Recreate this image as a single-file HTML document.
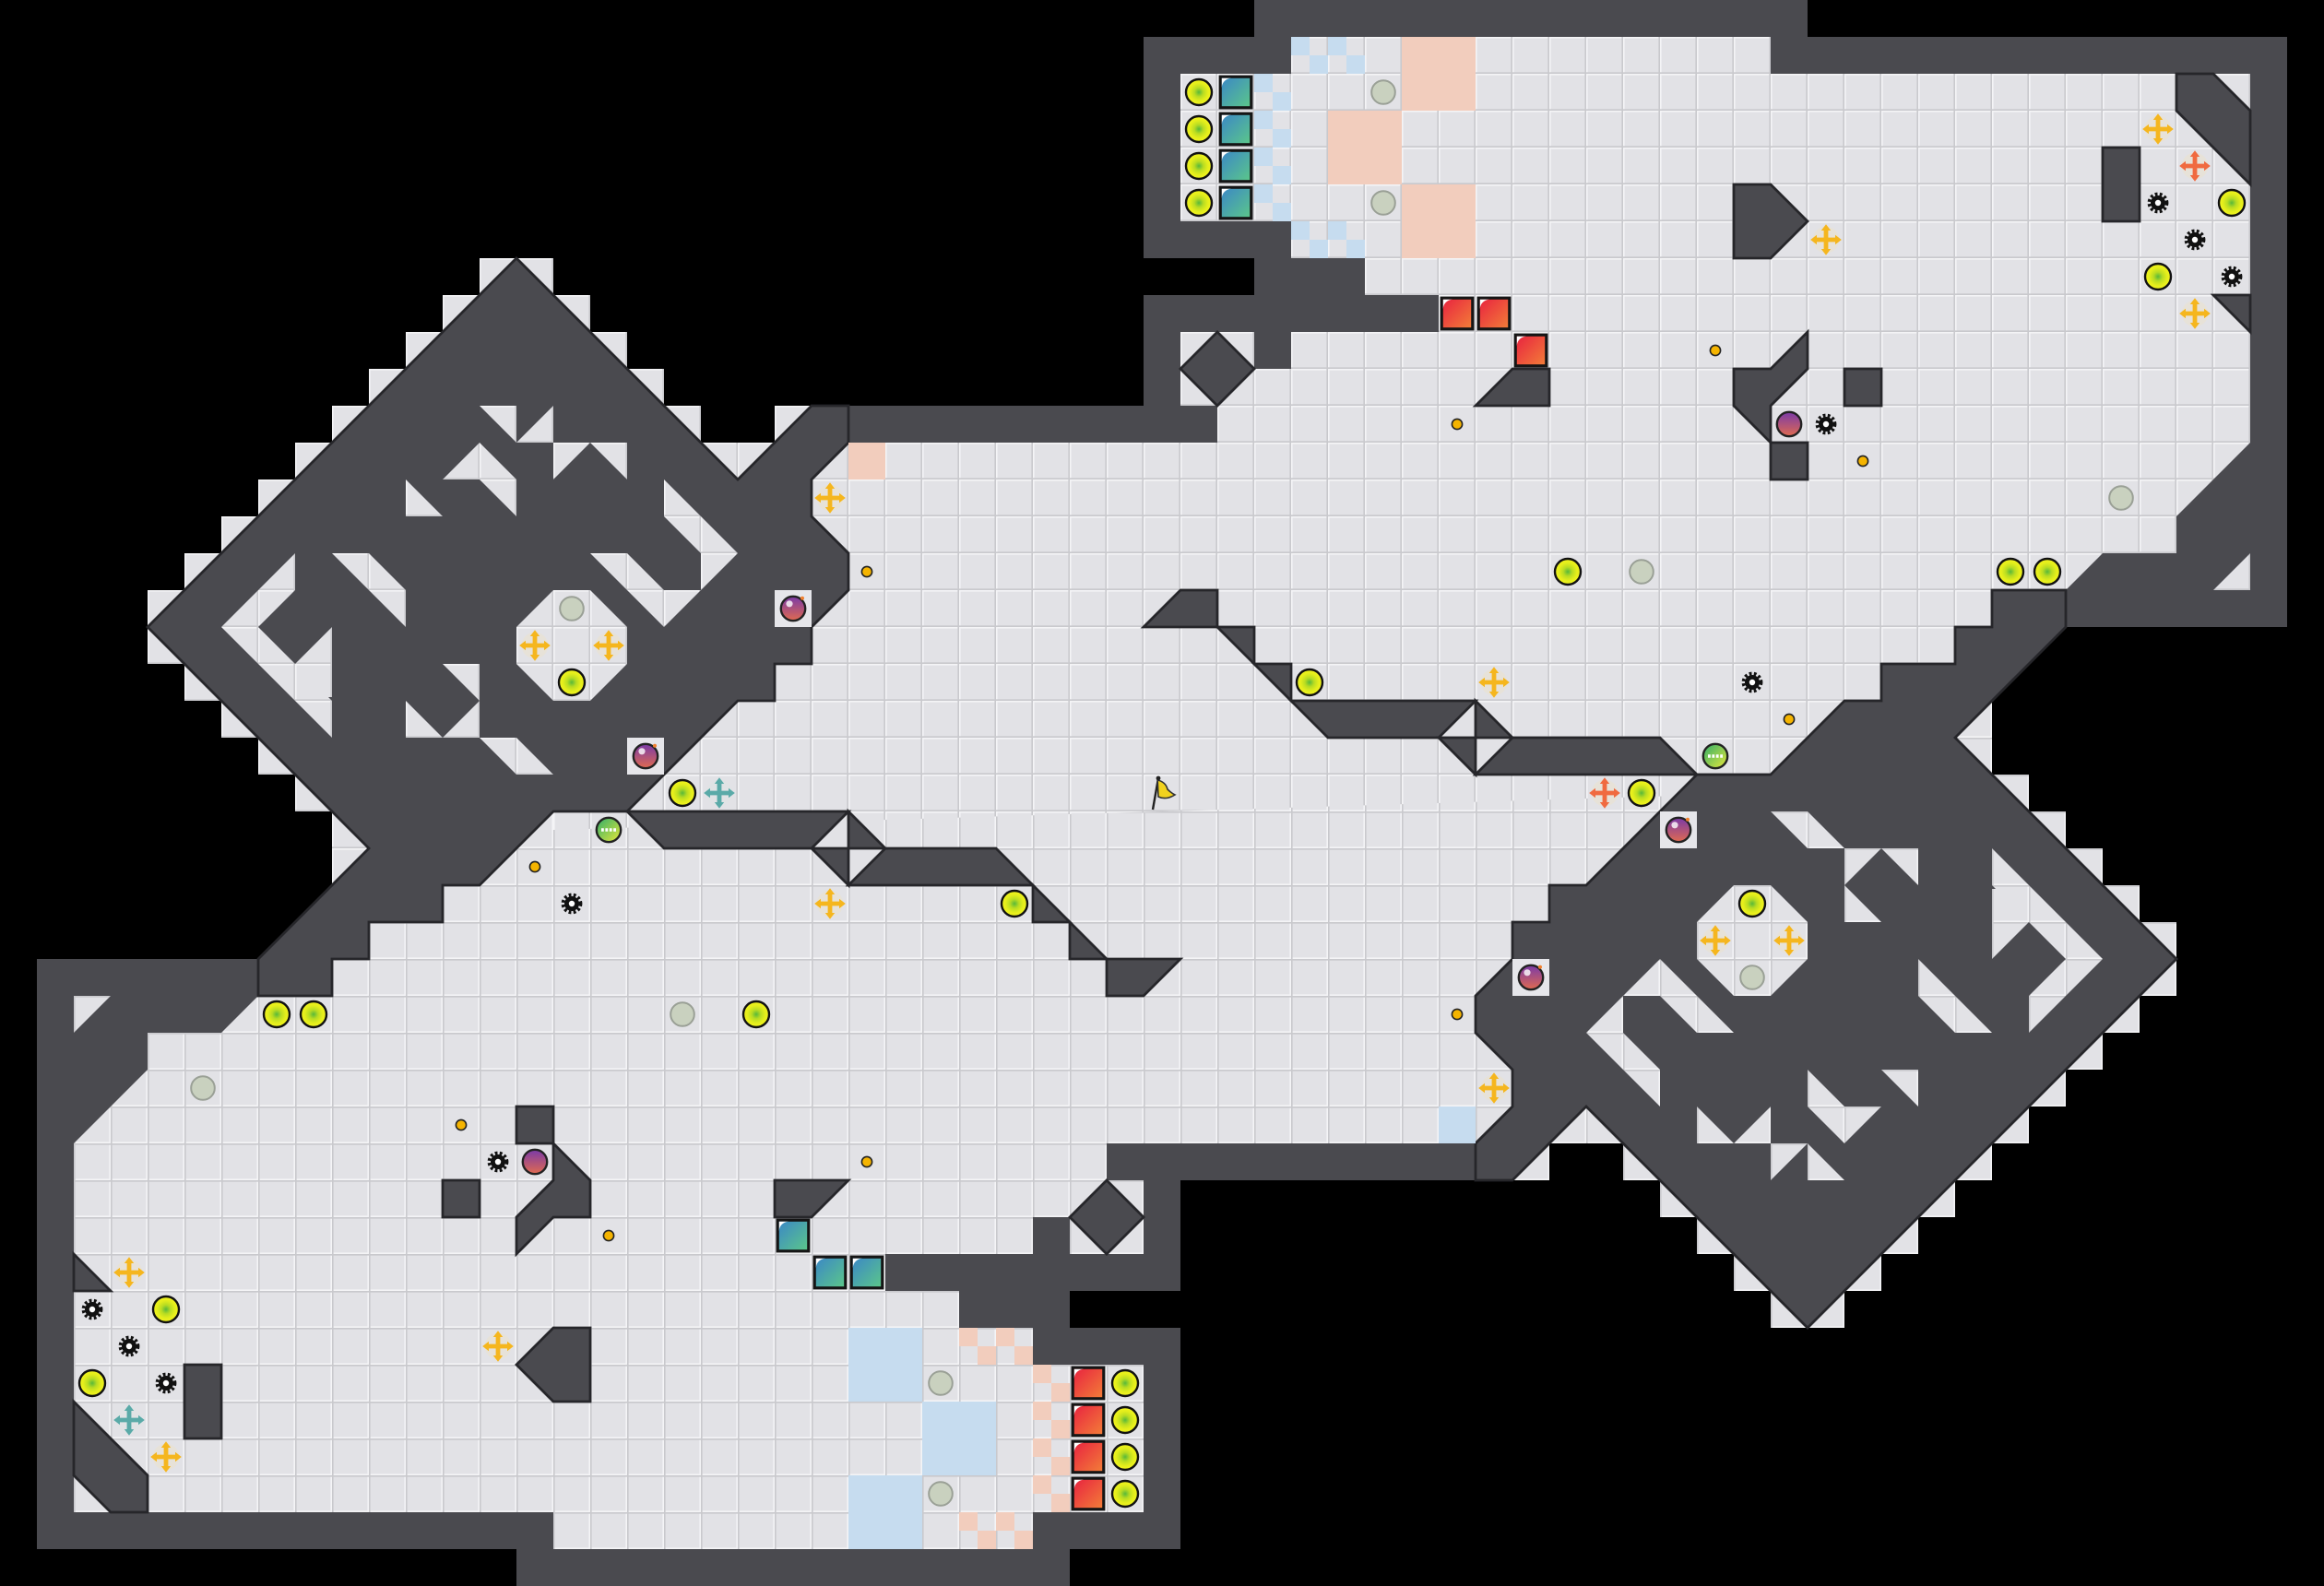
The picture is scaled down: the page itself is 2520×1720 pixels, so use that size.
<!DOCTYPE html>
<html><head><meta charset="utf-8"><style>html,body{margin:0;padding:0;background:#000}svg{display:block}</style></head>
<body>
<svg xmlns="http://www.w3.org/2000/svg" xmlns:xlink="http://www.w3.org/1999/xlink" width="2520" height="1720" viewBox="0 0 63 43">
<defs>
<pattern id="t" width="1" height="1" patternUnits="userSpaceOnUse"><rect width="1" height="1" fill="#e2e2e6"/><path d="M0 .02H1M.02 0V1" stroke="#f4f4f6" stroke-width=".04"/><path d="M0 .98H1M.98 0V1" stroke="#c9c9cd" stroke-width=".04"/></pattern>
<radialGradient id="gy" cx=".5" cy=".5" r=".5"><stop offset="0" stop-color="#58b83a"/><stop offset=".35" stop-color="#b8dc22"/><stop offset=".7" stop-color="#e4ee1c"/><stop offset="1" stop-color="#f2f41e"/></radialGradient>
<linearGradient id="gt" x1="0" y1="0" x2="1" y2="1"><stop offset="0" stop-color="#3a86c8"/><stop offset="1" stop-color="#5cc888"/></linearGradient>
<linearGradient id="gr" x1="0" y1="0" x2="1" y2="1"><stop offset="0" stop-color="#e82040"/><stop offset="1" stop-color="#f38038"/></linearGradient>
<linearGradient id="gb" x1="0" y1="0" x2="0" y2="1"><stop offset="0" stop-color="#7a3aa8"/><stop offset="1" stop-color="#e06a50"/></linearGradient>
<linearGradient id="gg" x1="0" y1="0" x2="1" y2="1"><stop offset="0" stop-color="#2fae6a"/><stop offset="1" stop-color="#e8e83a"/></linearGradient>
<g id="yc"><circle r=".35" fill="url(#gy)" stroke="#111" stroke-width=".06"/></g>
<g id="gc"><circle r=".32" fill="#c9d1bf" stroke="#9aa096" stroke-width=".05"/></g>
<g id="ts"><rect x="-.42" y="-.42" width=".84" height=".84" fill="url(#gt)" stroke="#151515" stroke-width=".08"/><path d="M-.38 -.12A.26 .26 0 0 1 -.12 -.38L-.38 -.38Z" fill="#fff"/></g>
<g id="rs"><rect x="-.42" y="-.42" width=".84" height=".84" fill="url(#gr)" stroke="#151515" stroke-width=".08"/><path d="M-.38 -.12A.26 .26 0 0 1 -.12 -.38L-.38 -.38Z" fill="#fff"/></g>
<g id="yx"><circle r=".36" fill="#e9e2d2" opacity=".7"/><path d="M0 -.28V.28M-.28 0H.28" stroke="#f5b61e" stroke-width=".12"/><path d="M0 -.42L-.13 -.25H.13ZM0 .42L-.13 .25H.13ZM-.42 0L-.25 -.13V.13ZM.42 0L.25 -.13V.13Z" fill="#f5b61e"/></g>
<g id="ox"><circle r=".36" fill="#e9e2d2" opacity=".7"/><path d="M0 -.28V.28M-.28 0H.28" stroke="#f06a40" stroke-width=".12"/><path d="M0 -.42L-.13 -.25H.13ZM0 .42L-.13 .25H.13ZM-.42 0L-.25 -.13V.13ZM.42 0L.25 -.13V.13Z" fill="#f06a40"/></g>
<g id="tx"><circle r=".36" fill="#e0e4e4" opacity=".7"/><path d="M0 -.28V.28M-.28 0H.28" stroke="#5aaaa8" stroke-width=".12"/><path d="M0 -.42L-.13 -.25H.13ZM0 .42L-.13 .25H.13ZM-.42 0L-.25 -.13V.13ZM.42 0L.25 -.13V.13Z" fill="#5aaaa8"/></g>
<g id="gear"><circle r=".2" fill="#111"/><circle r=".24" fill="none" stroke="#111" stroke-width=".09" stroke-dasharray=".07 .06"/><circle r=".08" fill="#fff"/></g>
<g id="dot"><circle r=".14" fill="#f5b400" stroke="#222" stroke-width=".04"/></g>
<g id="bomb"><rect x="-.5" y="-.5" width="1" height="1" fill="#e6e6ea"/><circle r=".33" fill="url(#gb)" stroke="#222" stroke-width=".06"/><circle cx="-.1" cy="-.13" r=".09" fill="#fff" opacity=".8"/><circle cx=".25" cy="-.28" r=".05" fill="#f08030"/></g>
<g id="gball"><circle r=".33" fill="url(#gg)" stroke="#222" stroke-width=".06"/><path d="M-.2 0h.4" stroke="#fff" stroke-width=".09" stroke-dasharray=".07 .04"/></g>
<g id="bchk"><rect width=".5" height=".5" fill="#c6dcef"/><rect x=".5" y=".5" width=".5" height=".5" fill="#c6dcef"/></g>
<g id="schk"><rect width=".5" height=".5" fill="#f2cdbd"/><rect x=".5" y=".5" width=".5" height=".5" fill="#f2cdbd"/></g>

<polygon id="foot" fill="#4a4a4f" points="9,24 9,22 8,22 8,21 7,21 7,20 6,20 6,19 5,19 5,18 4,18 4,16 5,16 5,15 6,15 6,14 7,14 7,13 8,13 8,12 9,12 9,11 10,11 10,10 11,10 11,9 12,9 12,8 13,8 13,7 15,7 15,8 16,8 16,9 17,9 17,10 18,10 18,11 19,11 19,12 21,12 21,11 31,11 31,8 34,8 34,7 31,7 31,1 34,1 34,0 49,0 49,1 62,1 62,17 56,17 54,19 31.5,21.5"/>
<polygon id="floor" fill="url(#t)" points="9,24 9,22 8,22 8,21 7,21 7,20 6,20 6,19 5,19 5,18 4,18 4,16 5,16 5,15 6,15 6,14 7,14 7,13 8,13 8,12 9,12 9,11 10,11 10,10 11,10 11,9 12,9 12,8 13,8 13,7 15,7 15,8 16,8 16,9 17,9 17,10 18,10 18,11 19,11 19,12 21,12 21,11 22,11 22,12 33,12 33,11 32,11 32,9 34,9 34,10 35,10 35,9 39,9 39,8 37,8 37,7 35,7 35,6 32,6 32,2 35,2 35,1 48,1 48,2 61,2 61,12 59,14 59,15 57,15 56,16 54,16 54,17 53,17 53,18 51,18 51,19 50,19 48,21 31.5,21.5 15,22 12,24"/>
<g id="walls" fill="#4a4a4f" stroke="#26262a" stroke-width=".07" stroke-linejoin="miter">
<polygon points="14,7 20,13 22,11 23,11 23,12 22,13 22,14 23,15 23,16 22,17 22,18 21,18 21,19 20,19 17,22 15,22 13,24 12,24 12,25 10,25 10,26 9,26 9,27 7,27 7,26 10,23 4,17"/>
<polygon points="33,9 34,10 33,11 32,10"/>
<polygon points="47,5 48,5 49,6 48,7 47,7"/>
<rect x="57" y="4" width="1" height="2"/>
<polygon points="59,2 60,2 61,3 61,5 59,3"/>
<polygon points="60,8 61,8 61,9"/>
<polygon points="40,11 41,10 42,10 42,11"/>
<polygon points="49,9 49,10 48,11 48,12 47,11 47,10 48,10"/>
<rect x="50" y="10" width="1" height="1"/>
<rect x="48" y="12" width="1" height="1"/>
<polygon points="31,17 32,16 33,16 33,17"/>
<polygon points="33,17 34,17 34,18"/>
<polygon points="34,18 35,18 35,19"/>
<polygon points="35,19 40,19 39,20 36,20"/>
<polygon points="40,19 41,20 40,20"/>
<polygon points="39,20 40,20 40,21"/>
<polygon points="41,20 45,20 46,21 40,21"/>
</g>
<g id="cuts" fill="url(#t)">
<polygon points="15,16 16,16 17,17 17,18 16,19 15,19 14,18 14,17"/>
<rect x="21" y="16" width="1" height="1"/>
<rect x="17" y="20" width="1" height="1"/>
<polygon points="60,16 61,16 61,15"/>
<polygon points="13,11 14,11 14,12"/>
<polygon points="14,12 15,11 15,12"/>
<polygon points="15,12 16,12 15,13"/>
<polygon points="16,12 17,12 17,13"/>
<polygon points="12,13 13,12 13,13"/>
<polygon points="13,12 14,13 14,14 13,13"/>
<polygon points="11,13 12,14 11,14"/>
<polygon points="18,13 20,15 19,16 19,15 18,14"/>
<polygon points="16,15 17,15 18,16 19,16 18,17"/>
<polygon points="9,15 10,15 11,16 11,17"/>
<polygon points="8,15 6,17 9,20 9,19 7,17 8,16"/>
<polygon points="9,17 9,18 8,18"/>
<rect x="8" y="18" width="1" height=".9"/>
<polygon points="12,18 13,18 13,19"/>
<polygon points="11,19 12,20 11,20"/>
<polygon points="12,20 13,19 13,20"/>
<polygon points="13,20 14,20 15,21 14,21"/>
</g>
</defs>

<use xlink:href="#foot"/>
<use xlink:href="#foot" transform="rotate(180 31.5 21.5)"/>
<use xlink:href="#floor"/>
<use xlink:href="#floor" transform="rotate(180 31.5 21.5)"/>
<polygon fill="url(#t)" points="15,21.5 31.5,21 48,20.5 48,21.5 31.5,22 15,22.5"/>
<use xlink:href="#walls"/>
<use xlink:href="#walls" transform="rotate(180 31.5 21.5)"/>
<use xlink:href="#cuts"/>
<use xlink:href="#cuts" transform="rotate(180 31.5 21.5)"/>

<g fill="#f2cdbd">
<rect x="38" y="1" width="2" height="2"/><rect x="36" y="3" width="2" height="2"/><rect x="38" y="5" width="2" height="2"/><rect x="23" y="12" width="1" height="1"/>
</g>
<g fill="#c6dcef">
<rect x="23" y="36" width="2" height="2"/><rect x="25" y="38" width="2" height="2"/><rect x="23" y="40" width="2" height="2"/><rect x="39" y="30" width="1" height="1"/>
</g>
<use xlink:href="#bchk" x="35" y="1"/><use xlink:href="#bchk" x="36" y="1"/><use xlink:href="#bchk" x="34" y="2"/><use xlink:href="#bchk" x="34" y="3"/><use xlink:href="#bchk" x="34" y="4"/><use xlink:href="#bchk" x="34" y="5"/><use xlink:href="#bchk" x="35" y="6"/><use xlink:href="#bchk" x="36" y="6"/>
<use xlink:href="#schk" x="26" y="41"/><use xlink:href="#schk" x="27" y="41"/><use xlink:href="#schk" x="28" y="37"/><use xlink:href="#schk" x="28" y="38"/><use xlink:href="#schk" x="28" y="39"/><use xlink:href="#schk" x="28" y="40"/><use xlink:href="#schk" x="26" y="36"/><use xlink:href="#schk" x="27" y="36"/>

<use xlink:href="#yc" x="32.5" y="2.5"/><use xlink:href="#yc" x="32.5" y="3.5"/><use xlink:href="#yc" x="32.5" y="4.5"/><use xlink:href="#yc" x="32.5" y="5.5"/>
<use xlink:href="#ts" x="33.5" y="2.5"/><use xlink:href="#ts" x="33.5" y="3.5"/><use xlink:href="#ts" x="33.5" y="4.5"/><use xlink:href="#ts" x="33.5" y="5.5"/>
<use xlink:href="#rs" x="29.5" y="37.5"/><use xlink:href="#rs" x="29.5" y="38.5"/><use xlink:href="#rs" x="29.5" y="39.5"/><use xlink:href="#rs" x="29.5" y="40.5"/>
<use xlink:href="#yc" x="30.5" y="37.5"/><use xlink:href="#yc" x="30.5" y="38.5"/><use xlink:href="#yc" x="30.5" y="39.5"/><use xlink:href="#yc" x="30.5" y="40.5"/>
<use xlink:href="#rs" x="39.5" y="8.5"/><use xlink:href="#rs" x="40.5" y="8.5"/><use xlink:href="#rs" x="41.5" y="9.5"/>
<use xlink:href="#ts" x="21.5" y="33.5"/><use xlink:href="#ts" x="22.5" y="34.5"/><use xlink:href="#ts" x="23.5" y="34.5"/>

<use xlink:href="#yc" x="60.5" y="5.5"/><use xlink:href="#yc" x="58.5" y="7.5"/><use xlink:href="#yc" x="42.5" y="15.5"/><use xlink:href="#yc" x="54.5" y="15.5"/><use xlink:href="#yc" x="55.5" y="15.5"/><use xlink:href="#yc" x="35.5" y="18.5"/><use xlink:href="#yc" x="44.5" y="21.5"/><use xlink:href="#yc" x="18.5" y="21.5"/><use xlink:href="#yc" x="15.5" y="18.5"/><use xlink:href="#yc" x="27.5" y="24.5"/><use xlink:href="#yc" x="7.5" y="27.5"/><use xlink:href="#yc" x="8.5" y="27.5"/><use xlink:href="#yc" x="20.5" y="27.5"/><use xlink:href="#yc" x="47.5" y="24.5"/><use xlink:href="#yc" x="4.5" y="35.5"/><use xlink:href="#yc" x="2.5" y="37.5"/>
<use xlink:href="#gc" x="37.5" y="2.5"/><use xlink:href="#gc" x="37.5" y="5.5"/><use xlink:href="#gc" x="44.5" y="15.5"/><use xlink:href="#gc" x="57.5" y="13.5"/><use xlink:href="#gc" x="15.5" y="16.5"/><use xlink:href="#gc" x="47.5" y="26.5"/><use xlink:href="#gc" x="18.5" y="27.5"/><use xlink:href="#gc" x="5.5" y="29.5"/><use xlink:href="#gc" x="25.5" y="37.5"/><use xlink:href="#gc" x="25.5" y="40.5"/>
<use xlink:href="#yx" x="58.5" y="3.5"/><use xlink:href="#yx" x="49.5" y="6.5"/><use xlink:href="#yx" x="59.5" y="8.5"/><use xlink:href="#yx" x="40.5" y="18.5"/><use xlink:href="#yx" x="22.5" y="13.5"/><use xlink:href="#yx" x="22.5" y="24.5"/><use xlink:href="#yx" x="14.5" y="17.5"/><use xlink:href="#yx" x="16.5" y="17.5"/><use xlink:href="#yx" x="46.5" y="25.5"/><use xlink:href="#yx" x="48.5" y="25.5"/><use xlink:href="#yx" x="40.5" y="29.5"/><use xlink:href="#yx" x="3.5" y="34.5"/><use xlink:href="#yx" x="4.5" y="39.5"/><use xlink:href="#yx" x="13.5" y="36.5"/>
<use xlink:href="#ox" x="59.5" y="4.5"/><use xlink:href="#ox" x="43.5" y="21.5"/>
<use xlink:href="#tx" x="19.5" y="21.5"/><use xlink:href="#tx" x="3.5" y="38.5"/>
<use xlink:href="#gear" x="58.5" y="5.5"/><use xlink:href="#gear" x="59.5" y="6.5"/><use xlink:href="#gear" x="60.5" y="7.5"/><use xlink:href="#gear" x="49.5" y="11.5"/><use xlink:href="#gear" x="47.5" y="18.5"/><use xlink:href="#gear" x="15.5" y="24.5"/><use xlink:href="#gear" x="13.5" y="31.5"/><use xlink:href="#gear" x="2.5" y="35.5"/><use xlink:href="#gear" x="3.5" y="36.5"/><use xlink:href="#gear" x="4.5" y="37.5"/>
<use xlink:href="#dot" x="46.5" y="9.5"/><use xlink:href="#dot" x="39.5" y="11.5"/><use xlink:href="#dot" x="50.5" y="12.5"/><use xlink:href="#dot" x="23.5" y="15.5"/><use xlink:href="#dot" x="48.5" y="19.5"/><use xlink:href="#dot" x="14.5" y="23.5"/><use xlink:href="#dot" x="39.5" y="27.5"/><use xlink:href="#dot" x="12.5" y="30.5"/><use xlink:href="#dot" x="23.5" y="31.5"/><use xlink:href="#dot" x="16.5" y="33.5"/>
<use xlink:href="#bomb" x="21.5" y="16.5"/><use xlink:href="#bomb" x="17.5" y="20.5"/><use xlink:href="#bomb" x="45.5" y="22.5"/><use xlink:href="#bomb" x="41.5" y="26.5"/>
<circle cx="48.5" cy="11.5" r=".33" fill="url(#gb)" stroke="#222" stroke-width=".06"/>
<circle cx="14.5" cy="31.5" r=".33" fill="url(#gb)" stroke="#222" stroke-width=".06"/>
<use xlink:href="#gball" x="16.5" y="22.5"/><use xlink:href="#gball" x="46.5" y="20.5"/>
<g transform="translate(31.4 21.5)">
<path d="M-.15 .45L0 -.4" stroke="#222" stroke-width=".06"/>
<path d="M-.02 -.35Q.2 -.3 .25 -.1Q.35 0 .45 .05Q.2 .2 0 .1Z" fill="#f2d21e" stroke="#333" stroke-width=".04"/>
<circle cx="0" cy="-.4" r=".06" fill="#222"/>
</g>
</svg>
</body></html>
